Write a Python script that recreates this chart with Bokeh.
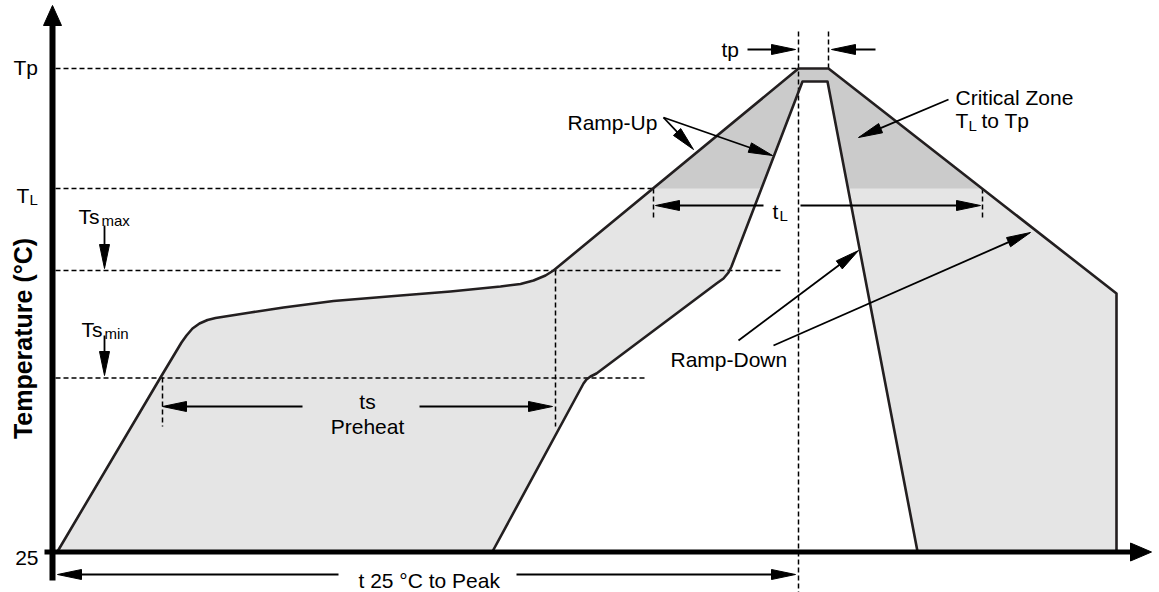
import math
from bokeh.plotting import figure
from bokeh.models import Range1d
from bokeh.core.properties import value
from bokeh.embed import file_html
from bokeh.resources import INLINE

FONT = "Liberation Sans"
INK = "#231f20"
LIGHT = "#e5e5e5"
DARK = "#cbcbcb"

# ---- data (chart units: time to the right, temperature upward on an inverted pixel-like scale) ----
# temperature levels
level_names = ["25", "Ts_min", "Ts_max", "T_L", "Tp"]
level_T = [551.5, 377.5, 270, 188, 68]
level_dash_end = [None, 645, 780, 652, 798]

# outer (upper limit) profile
outer_t = [57, 160, 181, 186, 192, 199, 207, 215, 250, 283, 333, 400, 450, 500, 520, 533, 545, 553, 798, 828, 1116, 1116]
outer_T = [551, 377, 342, 335, 328, 323, 319.5, 317.5, 312, 307, 300.5, 295, 291, 286, 283.5, 280, 275, 270, 68, 68, 293, 551]

# inner (lower limit) profile
inner_t = [492, 583, 586, 590, 596, 716, 723, 728, 731, 802, 827, 917]
inner_T = [551, 383, 379, 376, 373, 283, 278, 272, 266, 81, 81, 551]

# time markers (vertical dashed)
vmark_t = [798, 828, 162, 555, 653, 982]
vmark_T0 = [31, 31, 377, 270, 188, 188]
vmark_T1 = [592, 68, 426, 426, 217, 217]

# annotation arrows: start -> tip
arrow_x0 = [302, 419, 763, 800, 338, 516, 747, 875, 104, 104, 663, 663, 948, 738, 773]
arrow_y0 = [406, 406, 205, 205, 574, 574, 49, 49, 225, 335, 117, 117, 99, 340, 345]
arrow_x1 = [162, 552, 655, 980, 57, 795, 795, 831, 104, 104, 693, 772, 858, 858, 1030]
arrow_y1 = [406, 406, 205, 205, 574, 574, 49, 49, 268, 375, 149, 155, 137, 250, 232]

# texts
main_text = ["Tp", "T", "Ts", "Ts", "25", "ts", "Preheat", "t", "t 25 \u00b0C to Peak", "tp",
             "Ramp-Up", "Critical Zone", "T", "to Tp", "Ramp-Down"]
main_x = [13, 16, 78, 81, 38, 367, 367, 772, 358, 721, 567, 955, 955, 981, 670]
main_y = [67, 195, 216, 329, 557, 401, 426, 211, 580, 49, 122, 97, 120, 120, 359]
main_align = ["left", "left", "left", "left", "right", "center", "center", "left", "left", "left",
              "left", "left", "left", "left", "left"]
sub_text = ["L", "max", "min", "L", "L"]
sub_x = [29, 101, 104, 779, 968]
sub_y = [199, 220, 333, 215, 125]
axis_title = "Temperature (\u00b0C)"


def crossings(ts, Ts, level):
    out = []
    for i in range(len(ts) - 1):
        a, b = Ts[i], Ts[i + 1]
        if (a - level) * (b - level) < 0:
            f = (level - a) / (b - a)
            out.append(ts[i] + f * (ts[i + 1] - ts[i]))
    return out


p = figure(width=1159, height=592, x_range=Range1d(0, 1159), y_range=Range1d(592, 0),
           x_axis_type=None, y_axis_type=None, output_backend="svg", toolbar_location=None,
           min_border=0, background_fill_color="white", border_fill_color="white")
p.outline_line_color = None

# light grey process window
poly_x = outer_t + inner_t[::-1]
poly_y = outer_T + inner_T[::-1]
p.patch(poly_x, poly_y, fill_color=LIGHT, line_color=None)

# darker critical zone (above T_L)
TL = level_T[3]
oc = crossings(outer_t, outer_T, TL)
ic = crossings(inner_t, inner_T, TL)
dz_x = [oc[0]] + [t for t, T in zip(outer_t, outer_T) if T < TL] + [oc[-1], ic[-1]] + \
       [t for t, T in zip(inner_t, inner_T) if T < TL][::-1] + [ic[0]]
dz_y = [TL] + [T for T in outer_T if T < TL] + [TL, TL] + [T for T in inner_T if T < TL][::-1] + [TL]
p.patch(dz_x, dz_y, fill_color=DARK, line_color=None)

# horizontal dashed level lines
hx0, hx1, hy = [], [], []
for T, e in zip(level_T, level_dash_end):
    if e is not None:
        hx0.append(55); hx1.append(e); hy.append(T)
p.segment(x0=hx0, y0=hy, x1=hx1, y1=hy, line_color="black", line_width=1.5, line_dash="5 3")
# vertical dashed markers
p.segment(x0=vmark_t, y0=vmark_T0, x1=vmark_t, y1=vmark_T1, line_color="black", line_width=1.5,
          line_dash="5 3")

# profile outlines
p.line(outer_t, outer_T, line_color=INK, line_width=2.6, line_join="round")
p.line(inner_t, inner_T, line_color=INK, line_width=2.6, line_join="round")

# axes (arrows)
p.segment(x0=[52], y0=[580], x1=[52], y1=[23], line_color="black", line_width=6)
p.segment(x0=[44], y0=[551.5], x1=[1132], y1=[551.5], line_color="black", line_width=5)
p.patch([52, 43, 61], [5, 25, 25], fill_color="black", line_color="black", line_width=1)
p.patch([1151, 1130, 1130], [551.5, 542.5, 560.5], fill_color="black", line_color="black", line_width=1)


def head(x0, y0, x1, y1, L=24, W=10):
    dx, dy = x1 - x0, y1 - y0
    d = math.hypot(dx, dy)
    ux, uy = dx / d, dy / d
    bx, by = x1 - ux * L, y1 - uy * L
    px, py = -uy * W / 2, ux * W / 2
    return [x1, bx + px, bx - px], [y1, by + py, by - py], bx + ux * 2, by + uy * 2


hxs, hys, sx0, sy0, sx1, sy1 = [], [], [], [], [], []
for x0, y0, x1, y1 in zip(arrow_x0, arrow_y0, arrow_x1, arrow_y1):
    xs, ys, bx, by = head(x0, y0, x1, y1)
    hxs.append(xs); hys.append(ys)
    sx0.append(x0); sy0.append(y0); sx1.append(bx); sy1.append(by)
p.segment(x0=sx0, y0=sy0, x1=sx1, y1=sy1, line_color="black", line_width=1.8)
p.patches(hxs, hys, fill_color="black", line_color="black", line_width=1)

# texts
p.text(x=main_x, y=main_y, text=main_text, text_align=main_align, text_baseline="alphabetic",
       text_font=value(FONT), text_font_size="21px", text_color="black")
p.text(x=sub_x, y=sub_y, text=sub_text, text_align="left", text_baseline="alphabetic",
       text_font=value(FONT), text_font_size="15px", text_color="black")
p.text(x=[22], y=[338], text=[axis_title], angle=math.pi / 2, text_align="center",
       text_baseline="middle", text_font=value(FONT), text_font_size="25px",
       text_font_style="bold", text_color="black")

open("out.html", "w").write(file_html(p, INLINE))
